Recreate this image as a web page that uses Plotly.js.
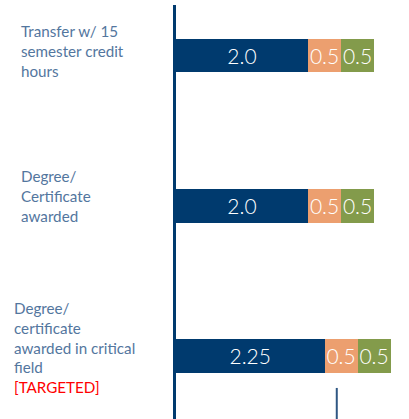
<!DOCTYPE html>
<html>
<head>
<meta charset="utf-8">
<script src="https://cdn.plot.ly/plotly-3.0.1.min.js"></script>
<style>html,body{margin:0;padding:0;background:#fff;}#chart{width:409px;height:419px;}</style>
</head>
<body>
<div id="chart"></div>
<script>
// ---- data ----
var categories = [
  'Transfer w/ 15<br>semester credit<br>hours',
  'Degree/<br>Certificate<br>awarded',
  'Degree/<br>certificate<br>awarded in critical<br>field'
];
var categoryTags = ['', '', '[TARGETED]'];
var baseValues  = [2.0, 2.0, 2.25];
var bonusValues1 = [0.5, 0.5, 0.5];
var bonusValues2 = [0.5, 0.5, 0.5];

// ---- styling ----
var NAVY = '#003a6e', ORANGE = '#ec9f6f', GREEN = '#839b4b', LABEL = '#53769e';
function fmt(v){ return Number.isInteger(v) ? v.toFixed(1) : String(v); }
function barTrace(vals, color, fs){
  return {
    type: 'bar', orientation: 'h',
    y: categories, x: vals,
    width: 0.226,
    marker: {color: color, line: {width: 0}},
    text: vals.map(fmt),
    textposition: 'inside',
    insidetextanchor: 'middle',
    textangle: 0,
    constraintext: 'none',
    textfont: {family: 'Lato', size: fs, color: '#ffffff', weight: 300},
    hoverinfo: 'none',
    cliponaxis: false
  };
}
var traces = [
  barTrace(baseValues, NAVY, 24),
  barTrace(bonusValues1, ORANGE, 21),
  barTrace(bonusValues2, GREEN, 21)
];

var labelX = [-0.672, -0.672, -0.702];
var labelShift = [4, 10, 8];
var annotations = categories.map(function(c, i){
  var t = c + (categoryTags[i] ? '<br><span style="color:#ff0000">' + categoryTags[i] + '</span>' : '');
  return {
    xref: 'paper', yref: 'y', x: labelX[i], y: c,
    xanchor: 'left', yanchor: 'middle', align: 'left',
    yshift: labelShift[i],
    text: t, showarrow: false,
    font: {family: 'Lato', size: 15.2, color: LABEL, weight: 400}
  };
});

var layout = {
  width: 409, height: 419,
  margin: {l: 176, r: 0, t: 5, b: 0, pad: 0},
  paper_bgcolor: '#ffffff', plot_bgcolor: '#ffffff',
  barmode: 'stack',
  showlegend: false,
  uniformtext: {mode: 'show', minsize: 21},
  xaxis: {range: [0, 3.53], visible: false, fixedrange: true},
  yaxis: {
    type: 'category', range: [2.42, -0.336],
    showticklabels: false, ticks: '', showgrid: false, zeroline: false,
    showline: true, linecolor: NAVY, linewidth: 3.5, fixedrange: true
  },
  annotations: annotations,
  shapes: [{
    type: 'line', xref: 'paper', yref: 'paper',
    x0: 0.69, x1: 0.69, y0: 0, y1: 0.075,
    line: {color: '#2f5783', width: 2}
  }]
};

Plotly.newPlot('chart', traces, layout, {staticPlot: true, displayModeBar: false});
</script>
</body>
</html>
